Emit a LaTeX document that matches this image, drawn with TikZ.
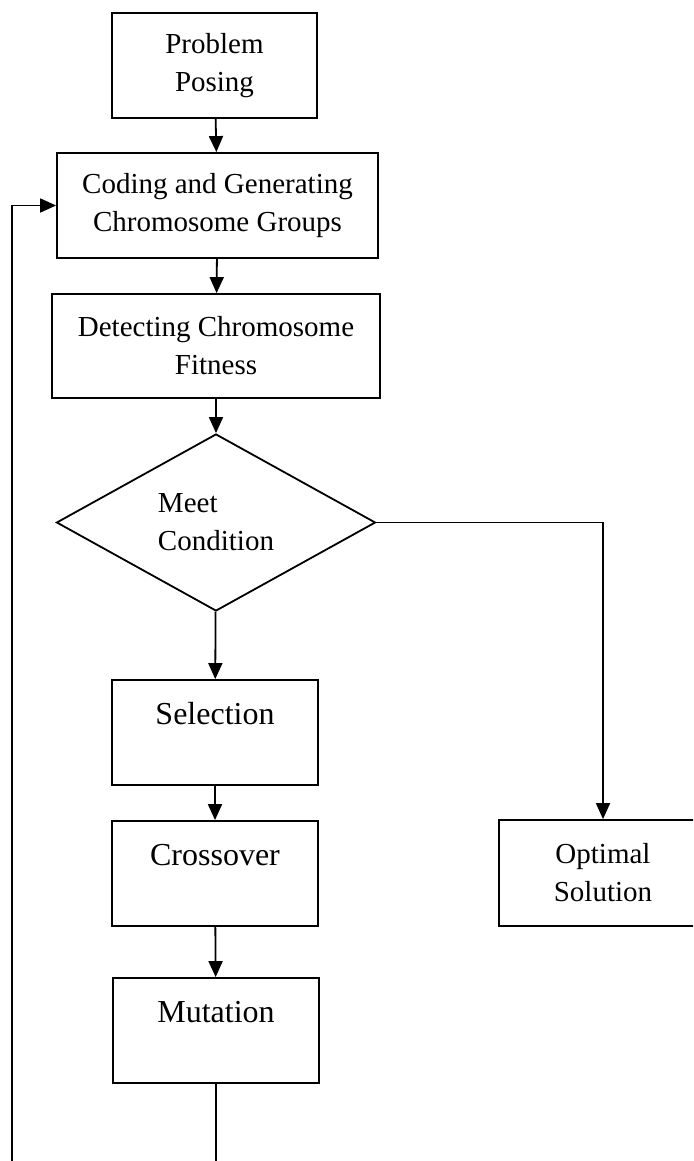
\documentclass[tikz,border=0pt]{standalone}
\usepackage{fontspec}
\setmainfont{Liberation Serif}
\usetikzlibrary{arrows.meta,shapes.geometric}

\begin{document}
\begin{tikzpicture}[x=1pt, y=-1pt, line width=1.8pt,
    box/.style={rectangle, draw, inner sep=0pt, align=center, font=\fontsize{29}{38}\selectfont},
    opbox/.style={box, minimum width=206pt, minimum height=105pt, font=\fontsize{32}{38}\selectfont},
    arr/.style={-{Triangle[length=16pt,width=14pt]}}]
  \useasboundingbox (0,0) rectangle (693,1161);
  \clip (0,0) rectangle (693,1161);

  % Start
  \node[box, minimum width=205pt, minimum height=105pt] (problem) at (214.5,65.5) {Problem\\Posing};

  % Population and fitness
  \node[box, minimum width=321pt, minimum height=105pt] (coding) at (217.5,205.5) {Coding and Generating\\Chromosome Groups};
  \node[box, minimum width=328pt, minimum height=104pt] (detect) at (216,346) {Detecting Chromosome\\Fitness};

  % Test
  \node[diamond, draw, inner sep=0pt, minimum width=319pt, minimum height=177pt, align=left, font=\fontsize{29}{38}\selectfont] (cond) at (216,522.5) {Meet\\Condition};

  % Operators
  \node[opbox] (select) at (215,732.5) {Selection\\~};
  \node[opbox] (cross) at (215,873.5) {Crossover\\~};
  \node[opbox] (mutate) at (216,1030.5) {Mutation\\~};

  % Result
  \node[box, minimum width=208pt, minimum height=106pt] (optimal) at (603,873) {Optimal\\Solution};

  % Loop ends (at the lower edge)
  \coordinate (loopout) at (216,1161);
  \coordinate (loopin) at (12,1161);

  % Arrows
  \draw[arr] (problem) -- (coding);
  \draw[arr] (coding) -- (detect);
  \draw[arr] (detect) -- (cond);
  \draw[arr] (cond) -- (select);
  \draw[arr] (select) -- (cross);
  \draw[arr] (cross) -- (mutate);
  \draw[arr] (cond.east) -| (optimal.north);
  \draw (mutate) -- (loopout);
  \draw[arr] (loopin) |- (coding.west);
\end{tikzpicture}
\end{document}
